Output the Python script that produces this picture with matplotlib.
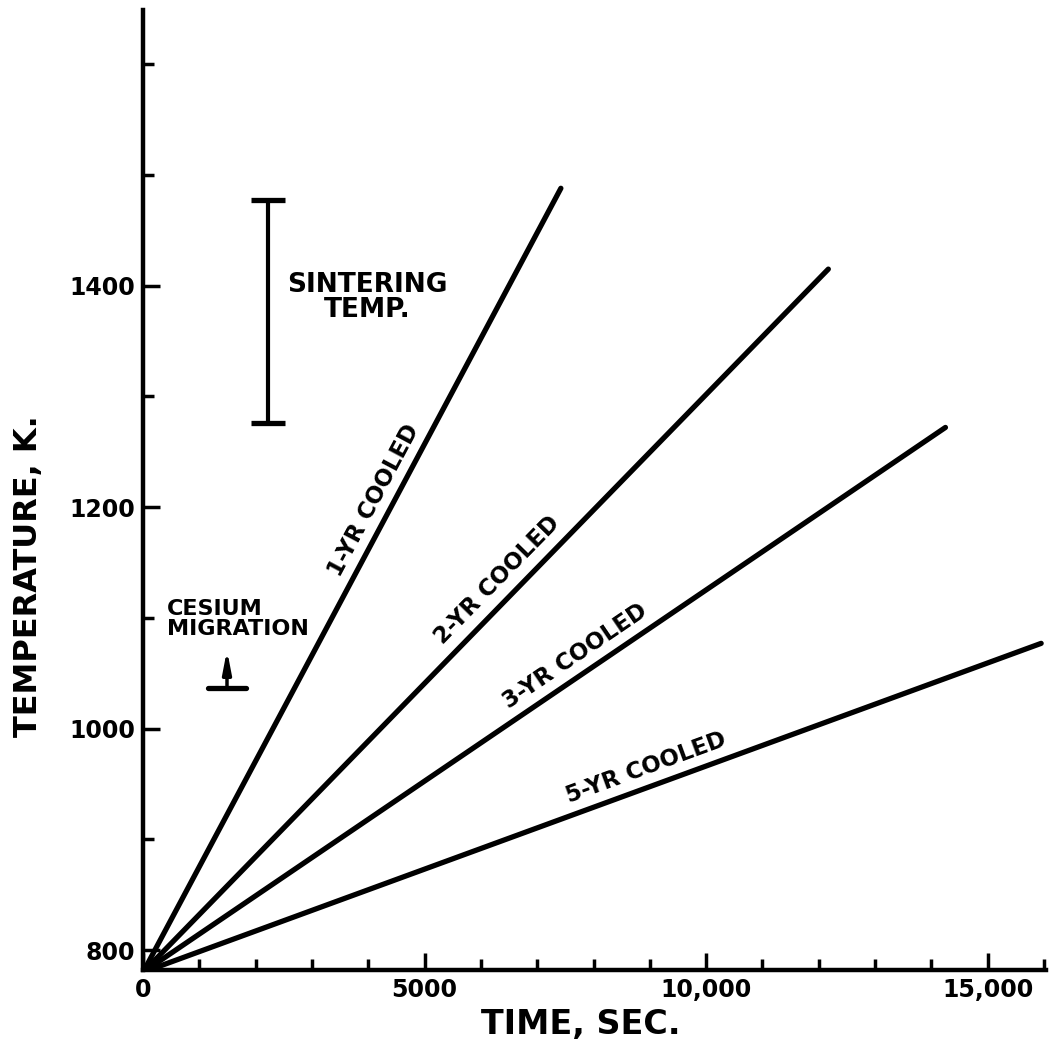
import matplotlib.pyplot as plt
import numpy as np

# Temperature rise vs time for fuel of different cooling ages
series_names = ['1-YR COOLED', '2-YR COOLED', '3-YR COOLED', '5-YR COOLED']
t_start = [0, 0, 0, 0]
T_start = [780, 780, 780, 780]
t_end = [7420, 12170, 14250, 15950]
T_end = [1488, 1415, 1272, 1077]

# where each curve label sits (data coords)
label_t = [4100, 6290, 7670, 8930]
label_T = [1206, 1134, 1065, 965]

# Reference bands
sinter_t = 2220
sinter_lo, sinter_hi = 1276, 1477
cesium_t = 1490
cesium_T = 1037

x_ticks_major = [0, 5000, 10000, 15000]
x_tick_labels = ['0', '5000', '10,000', '15,000']
y_ticks_major = [800, 1000, 1200, 1400]
y_tick_labels = ['800', '1000', '1200', '1400']

plt.rcParams['font.family'] = ['DejaVu Sans']
plt.rcParams['font.weight'] = 'bold'

fig = plt.figure(figsize=(10.6, 10.54), dpi=100)
ax = fig.add_axes([0.135, 0.0797, 0.852, 0.9108])

ax.set_xlim(0, 16040)
ax.set_ylim(782, 1649)

for sp in ['top', 'right']:
    ax.spines[sp].set_visible(False)
for sp in ['left', 'bottom']:
    ax.spines[sp].set_linewidth(3.2)

ax.set_xticks(x_ticks_major)
ax.set_xticklabels(x_tick_labels, fontsize=17, fontweight='bold')
ax.set_xticks(np.arange(1000, 16001, 1000), minor=True)
ax.set_yticks(y_ticks_major)
ax.set_yticklabels(y_tick_labels, fontsize=17, fontweight='bold')
ax.set_yticks(np.arange(900, 1601, 100), minor=True)
ax.tick_params(which='major', direction='in', length=12, width=2.5, pad=6)
ax.tick_params(which='minor', direction='in', length=8, width=2.5)

ax.set_xlabel('TIME, SEC.', fontsize=24, fontweight='bold')
ax.xaxis.set_label_coords(0.485, -0.04)
ax.set_ylabel('TEMPERATURE, K.', fontsize=23, fontweight='bold')
ax.yaxis.set_label_coords(-0.11, 0.41)

for i in range(len(series_names)):
    ax.plot([t_start[i], t_end[i]], [T_start[i], T_end[i]], color='black',
            lw=3.8, solid_capstyle='round')
    p0 = ax.transData.transform((t_start[i], T_start[i]))
    p1 = ax.transData.transform((t_end[i], T_end[i]))
    ang = np.degrees(np.arctan2(p1[1] - p0[1], p1[0] - p0[0]))
    ax.text(label_t[i], label_T[i], series_names[i], rotation=ang,
            rotation_mode='anchor', ha='center', va='center',
            fontsize=16.5, fontweight='bold')

# sintering temperature range bar
ax.errorbar([sinter_t], [(sinter_lo + sinter_hi) / 2],
            yerr=[[(sinter_hi - sinter_lo) / 2]], color='black',
            elinewidth=3, capsize=12.5, capthick=3.8, fmt='none')
ax.text(sinter_t + 340, 1389, 'SINTERING\nTEMP.', ha='left', va='center',
        fontsize=19, fontweight='bold', multialignment='center',
        linespacing=0.95)

# cesium migration marker
ax.plot([cesium_t - 330, cesium_t + 330], [cesium_T, cesium_T], color='black',
        lw=3.8, solid_capstyle='round')
ax.annotate('', xy=(cesium_t, cesium_T + 34), xytext=(cesium_t, cesium_T),
            arrowprops=dict(arrowstyle='-|>,head_length=1.3,head_width=0.25',
                            color='black', lw=2.5, shrinkA=0, shrinkB=0))
ax.text(430, 1099, 'CESIUM\nMIGRATION', ha='left', va='center',
        fontsize=16, fontweight='bold', multialignment='left',
        linespacing=0.95)

fig.savefig('out.png', dpi=100)
